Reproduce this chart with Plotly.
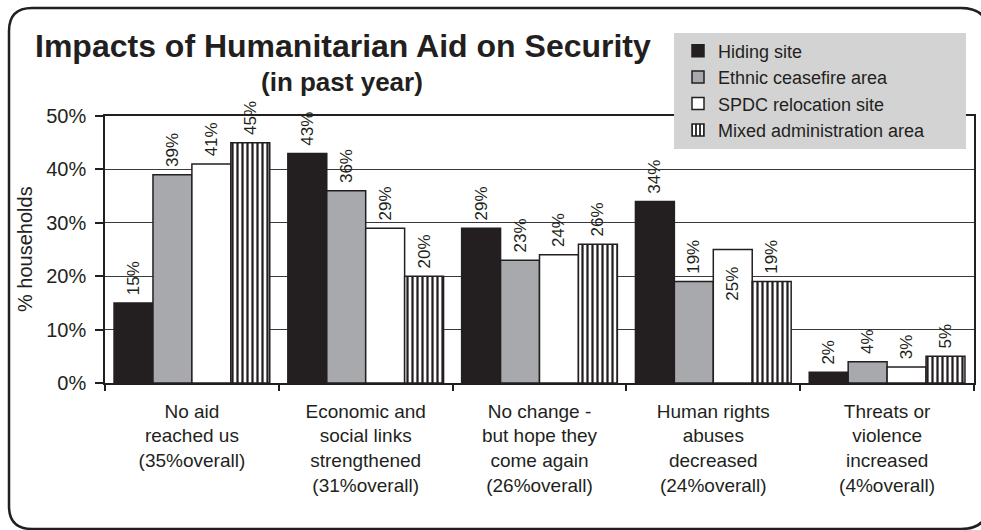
import plotly.graph_objects as go

# ---- data -------------------------------------------------------------
categories = [
    "No aid<br>reached us<br>(35%overall)",
    "Economic and<br>social links<br>strengthened<br>(31%overall)",
    "No change -<br>but hope they<br>come again<br>(26%overall)",
    "Human rights<br>abuses<br>decreased<br>(24%overall)",
    "Threats or<br>violence<br>increased<br>(4%overall)",
]
series_names = [
    "Hiding site",
    "Ethnic ceasefire area",
    "SPDC relocation site",
    "Mixed administration area",
]
hiding_site = [15, 43, 29, 34, 2]
ethnic_ceasefire = [39, 36, 23, 19, 4]
spdc_relocation = [41, 29, 24, 25, 3]
mixed_admin = [45, 20, 26, 19, 5]
y_ticks = [0, 10, 20, 30, 40, 50]
y_tick_labels = ["0%", "10%", "20%", "30%", "40%", "50%"]

# ---- figure geometry (pixels) ----------------------------------------
W, H = 981, 530
L, R, T, B = 105, 7, 116, 147
PW, PH = W - L - R, H - T - B

def px(x):
    return (x - L) / PW

def py(y):
    return (H - B - y) / PH

INK = "#231f20"
FONT = "Liberation Sans, Arial, Helvetica, sans-serif"
NBSP = "\u00a0"

def labels(vals, inside_idx=()):
    out = []
    for i, v in enumerate(vals):
        if i in inside_idx:
            out.append(f"{v}%" + NBSP * 3)
        else:
            out.append(NBSP + f"{v}%")
    return out

fig = go.Figure()

styles = [
    dict(color=INK),
    dict(color="#a7a9ac"),
    dict(color="#ffffff"),
    dict(color="#ffffff",
         pattern=dict(shape="|", fgcolor=INK, bgcolor="#ffffff",
                      size=5, solidity=0.45, fillmode="replace")),
]
values = [hiding_site, ethnic_ceasefire, spdc_relocation, mixed_admin]

for k, (name, vals, st) in enumerate(zip(series_names, values, styles)):
    inside = (3,) if k == 2 else ()
    positions = ["inside" if i in inside else "outside" for i in range(len(vals))]
    fig.add_trace(go.Bar(
        name=name,
        x=categories,
        y=vals,
        text=labels(vals, inside),
        textposition=positions,
        insidetextanchor="end",
        textangle=-90,
        textfont=dict(family=FONT, size=17, color=INK),
        insidetextfont=dict(family=FONT, size=17, color=INK),
        outsidetextfont=dict(family=FONT, size=17, color=INK),
        cliponaxis=False,
        constraintext="none",
        marker=dict(line=dict(color=INK, width=1.5), **st),
        legendgroup=name,
        hoverinfo="skip",
    ))

# rounded outer frame (right side runs just past the page edge)
fx0, fy0, fx1, fy1, rr = 9, 8, 989, 529, 28
frame = (
    f"M {px(fx0)},{py(fy0 + 23)} "
    f"Q {px(fx0)},{py(fy0)} {px(fx0 + 23)},{py(fy0)} "
    f"L {px(fx1 - rr)},{py(fy0)} "
    f"Q {px(fx1)},{py(fy0)} {px(fx1)},{py(fy0 + rr)} "
    f"L {px(fx1)},{py(fy1 - rr)} "
    f"Q {px(fx1)},{py(fy1)} {px(fx1 - rr)},{py(fy1)} "
    f"L {px(fx0 + 23)},{py(fy1)} "
    f"Q {px(fx0)},{py(fy1)} {px(fx0)},{py(fy1 - 23)} Z"
)

shapes = [
    dict(type="path", xref="paper", yref="paper", path=frame,
         line=dict(color=INK, width=2.5), fillcolor="rgba(0,0,0,0)",
         layer="above"),
    # legend panel
    dict(type="rect", xref="paper", yref="paper",
         x0=px(674), x1=px(966), y0=py(149), y1=py(33),
         fillcolor="#d3d3d3", line=dict(width=0), layer="above"),
]

annotations = [
    dict(text="<b>Impacts of Humanitarian Aid on Security</b>",
         xref="paper", yref="paper", x=px(33), y=py(46),
         xanchor="left", yanchor="middle", showarrow=False,
         font=dict(family=FONT, size=32, color=INK)),
    dict(text="<b>(in past year)</b>",
         xref="paper", yref="paper", x=px(342), y=py(82),
         xanchor="center", yanchor="middle", showarrow=False,
         font=dict(family=FONT, size=26, color=INK)),
    dict(text="% households",
         xref="paper", yref="paper", x=px(25), y=py(249),
         xanchor="center", yanchor="middle", textangle=-90, showarrow=False,
         font=dict(family=FONT, size=20, color=INK)),
]

fig.update_layout(
    width=W, height=H,
    margin=dict(l=L, r=R, t=T, b=B, autoexpand=False),
    paper_bgcolor="#ffffff",
    plot_bgcolor="#ffffff",
    barmode="group",
    bargap=0.104,
    bargroupgap=0,
    font=dict(family=FONT, color=INK),
    showlegend=True,
    legend=dict(
        x=px(678), y=py(32.5), xanchor="left", yanchor="top",
        bgcolor="rgba(0,0,0,0)", borderwidth=0,
        font=dict(family=FONT, size=18, color=INK),
        tracegroupgap=0, traceorder="normal",
    ),
    shapes=shapes,
    annotations=annotations,
    xaxis=dict(
        type="category",
        showgrid=False,
        showline=True, linecolor=INK, linewidth=1.5, mirror=True,
        ticks="outside", tickson="boundaries", ticklen=6,
        tickcolor=INK, tickwidth=1.5,
        ticklabelstandoff=10,
        tickfont=dict(family=FONT, size=19, color=INK),
        fixedrange=True,
    ),
    yaxis=dict(
        range=[0, 50],
        tickvals=y_ticks, ticktext=y_tick_labels,
        showgrid=True, gridcolor="#3a3a3a", gridwidth=1.2,
        zeroline=False,
        showline=True, linecolor=INK, linewidth=1.5, mirror=True,
        ticks="outside", ticklen=8, tickcolor=INK, tickwidth=1.5,
        ticklabelstandoff=5,
        tickfont=dict(family=FONT, size=20, color=INK),
        fixedrange=True,
    ),
)

fig.write_html("out.html")
